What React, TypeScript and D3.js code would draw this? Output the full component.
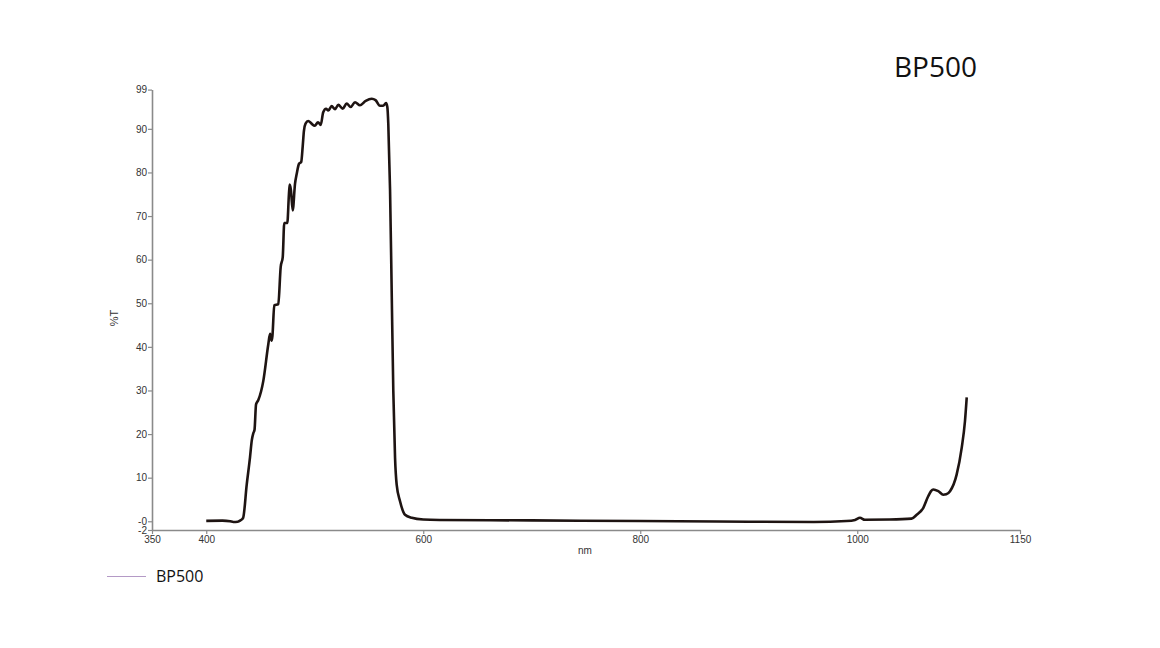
import React, { useEffect, useRef } from "react";
import * as d3 from "d3";

// wavelength (nm) and transmittance (%T)
const wavelengths = [
  400, 415, 422, 425, 429, 431.5, 434, 437.3, 440.3, 442, 443.4, 444.5, 445.9,
  448, 452.6, 457.2, 458.8, 460.3, 461, 462.7, 466.4, 468.6, 470.5, 471.9,
  474.7, 476.2, 476.9, 478, 479.7, 481.8, 483.4, 485.5, 487.5, 488.9, 490,
  491.5, 494, 497, 500, 503, 505.5, 507.8, 510.4, 512.5, 515.6, 518.7, 521.7,
  525.8, 529.4, 533.1, 537.1, 541.7, 547, 552.5, 556, 560.1, 563, 565.7, 566.9,
  567.8, 569.4, 570.9, 572.4, 574, 575.5, 578.6, 583.2, 589.4, 600, 615, 700,
  800, 900, 960, 990, 998, 1002.5, 1007, 1030, 1050, 1054.8, 1060.9, 1065.5,
  1068, 1070.1, 1074.7, 1079.3, 1082, 1085.5, 1091.6, 1096.3, 1099.3, 1100.9,
];
const transmittance = [
  0.1, 0.15, 0.0, -0.15, -0.1, 0.2, 0.8, 8.4, 14.6, 18.6, 20.2, 21, 26.8,
  27.8, 32.2, 40.6, 43, 41.4, 42.5, 49.5, 49.8, 58.3, 60.6, 68.4, 68.4, 75,
  77.2, 76, 71.3, 77.4, 79.7, 82, 82.4, 86, 89.5, 91.2, 91.8, 91.2, 90.7,
  91.5, 90.9, 93.8, 94.6, 94.2, 95.2, 94.5, 95.5, 94.6, 95.8, 95, 96.1, 95.4,
  96.4, 96.9, 96.6, 95.3, 95.3, 95.9, 95, 91, 76, 52.9, 29.9, 14.6, 8.4, 4.6,
  1.5, 0.8, 0.4, 0.3, 0.2, 0.05, -0.1, -0.15, 0.05, 0.3, 0.8, 0.35, 0.4, 0.6,
  1.5, 3.1, 5.8, 6.9, 7.3, 6.9, 6.1, 6.2, 6.9, 10.7, 16.9, 23, 28.4,
];

const xTicks = [350, 400, 600, 800, 1000, 1150];
const yTicks = [-2, 0, 10, 20, 30, 40, 50, 60, 70, 80, 90, 99];
const seriesName = "BP500";

const App: React.FC = () => {
  const svgRef = useRef<SVGSVGElement | null>(null);

  useEffect(() => {
    const width = 1160;
    const height = 648;
    const left = 152;
    const right = 1020;
    const top = 89.6;
    const bottom = 530;

    const svg = d3.select(svgRef.current);
    svg.selectAll("*").remove();
    svg.attr("viewBox", [0, 0, width, height]);

    const x = d3.scaleLinear().domain([350, 1150]).range([left, right]);
    const y = d3.scaleLinear().domain([-2, 99]).range([bottom, top]);

    const axisFont = "'Liberation Sans', Arial, sans-serif";

    // x axis
    const gx = svg
      .append("g")
      .attr("transform", `translate(0,${bottom})`)
      .call(
        d3
          .axisBottom(x)
          .tickValues(xTicks)
          .tickFormat(d3.format("d"))
          .tickSize(4)
          .tickPadding(2)
          .tickSizeOuter(0),
      );
    gx.select(".domain").attr("stroke", "#8a8a8a").attr("stroke-width", 1.6);
    gx.selectAll(".tick line").attr("stroke", "#8a8a8a").attr("stroke-width", 1.2);
    gx.selectAll("text")
      .attr("fill", "#333")
      .style("font-family", axisFont)
      .style("font-size", "10px");

    // y axis
    const gy = svg
      .append("g")
      .attr("transform", `translate(${left},0)`)
      .call(
        d3
          .axisLeft(y)
          .tickValues(yTicks)
          .tickSize(4)
          .tickPadding(1)
          .tickSizeOuter(0)
          .tickFormat((d) => (d === 0 ? "-0" : String(d))),
      );
    gy.select(".domain").attr("stroke", "#8a8a8a").attr("stroke-width", 1.6);
    gy.selectAll(".tick line").attr("stroke", "#8a8a8a").attr("stroke-width", 1.2);
    gy.selectAll("text")
      .attr("fill", "#333")
      .style("font-family", axisFont)
      .style("font-size", "10px");

    // axis titles
    svg
      .append("text")
      .attr("x", 585)
      .attr("y", 554)
      .attr("text-anchor", "middle")
      .attr("fill", "#333")
      .style("font-family", axisFont)
      .style("font-size", "10px")
      .text("nm");
    svg
      .append("text")
      .attr("transform", "translate(118,318) rotate(-90)")
      .attr("text-anchor", "middle")
      .attr("fill", "#333")
      .style("font-family", axisFont)
      .style("font-size", "11px")
      .text("%T");

    // curve
    const pts = wavelengths.map((w, i) => [w, transmittance[i]] as [number, number]);
    const line = d3
      .line<[number, number]>()
      .x((d) => x(d[0]))
      .y((d) => y(d[1]))
      .curve(d3.curveMonotoneX);
    svg
      .append("path")
      .datum(pts)
      .attr("d", line)
      .attr("fill", "none")
      .attr("stroke", "#1e1412")
      .attr("stroke-width", 2.6)
      .attr("stroke-linejoin", "round");

    // title
    svg
      .append("text")
      .attr("x", 894)
      .attr("y", 77)
      .attr("fill", "#111")
      .style("font-family", "'Open Sans', 'Noto Sans', sans-serif")
      .style("font-size", "28px")
      .text(seriesName);

    // legend
    svg
      .append("line")
      .attr("x1", 107)
      .attr("x2", 146)
      .attr("y1", 576.5)
      .attr("y2", 576.5)
      .attr("stroke", "#b49ac6")
      .attr("stroke-width", 1.2);
    svg
      .append("text")
      .attr("x", 156)
      .attr("y", 582)
      .attr("fill", "#111")
      .style("font-family", "'Open Sans', 'Noto Sans', sans-serif")
      .style("font-size", "16px")
      .text(seriesName);
  }, []);

  return (
    <svg
      ref={svgRef}
      width={1160}
      height={648}
      style={{ position: "absolute", left: 0, top: 0, background: "#fff" }}
    ></svg>
  );
};

export default App;
